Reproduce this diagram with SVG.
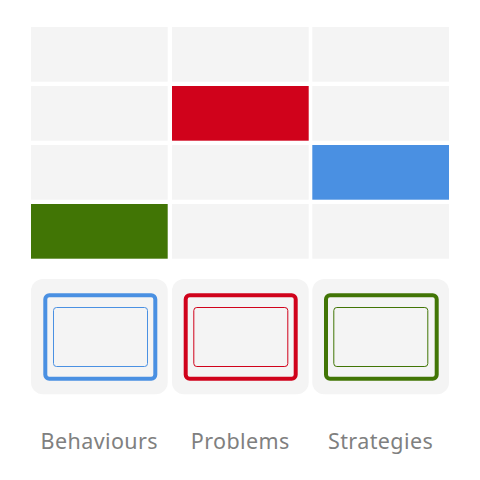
<svg xmlns="http://www.w3.org/2000/svg" width="480" height="480" viewBox="0 0 480 480">
<style>
.cell{fill:#f4f4f4}
.card{fill:#f4f4f4}
.frame{fill:none;stroke-width:4}
.inner{fill:none;stroke-width:1}
.lbl{font-family:"Noto Sans","Open Sans",sans-serif;font-size:21.5px;letter-spacing:0.4px;fill:#808080;text-anchor:middle}
</style>
<rect width="480" height="480" fill="#ffffff"/>
<g id="grid">
<rect class="cell" x="31" y="27" width="136.7" height="54.7"/>
<rect class="cell" x="172" y="27" width="136.7" height="54.7"/>
<rect class="cell" x="312.3" y="27" width="136.7" height="54.7"/>
<rect class="cell" x="31" y="86" width="136.7" height="54.7"/>
<rect x="172" y="86" width="136.7" height="54.7" fill="#d0021b"/>
<rect class="cell" x="312.3" y="86" width="136.7" height="54.7"/>
<rect class="cell" x="31" y="145" width="136.7" height="54.7"/>
<rect class="cell" x="172" y="145" width="136.7" height="54.7"/>
<rect x="312.3" y="145" width="136.7" height="54.7" fill="#4a90e2"/>
<rect x="31" y="204" width="136.7" height="54.7" fill="#417505"/>
<rect class="cell" x="172" y="204" width="136.7" height="54.7"/>
<rect class="cell" x="312.3" y="204" width="136.7" height="54.7"/>
</g>
<g id="behaviours">
<rect class="card" x="31" y="279" width="136.7" height="115.3" rx="12"/>
<rect class="frame" x="45.3" y="295.3" width="110" height="83.4" rx="4" stroke="#4a90e2"/>
<rect class="inner" x="53.5" y="307.5" width="94" height="59" rx="3" stroke="#4a90e2"/>
<text class="lbl" x="99.3" y="449">Behaviours</text>
</g>
<g id="problems">
<rect class="card" x="172" y="279" width="136.7" height="115.3" rx="12"/>
<rect class="frame" x="185.7" y="295.3" width="110" height="83.4" rx="4" stroke="#d0021b"/>
<rect class="inner" x="193.8" y="307.5" width="94" height="59" rx="3" stroke="#d0021b"/>
<text class="lbl" x="240.3" y="449">Problems</text>
</g>
<g id="strategies">
<rect class="card" x="312.3" y="279" width="136.7" height="115.3" rx="12"/>
<rect class="frame" x="326" y="295.3" width="110.7" height="83.4" rx="4" stroke="#417505"/>
<rect class="inner" x="333.8" y="307.5" width="94" height="59" rx="3" stroke="#417505"/>
<text class="lbl" x="380.6" y="449">Strategies</text>
</g>
<g id="connectors"/>
</svg>
